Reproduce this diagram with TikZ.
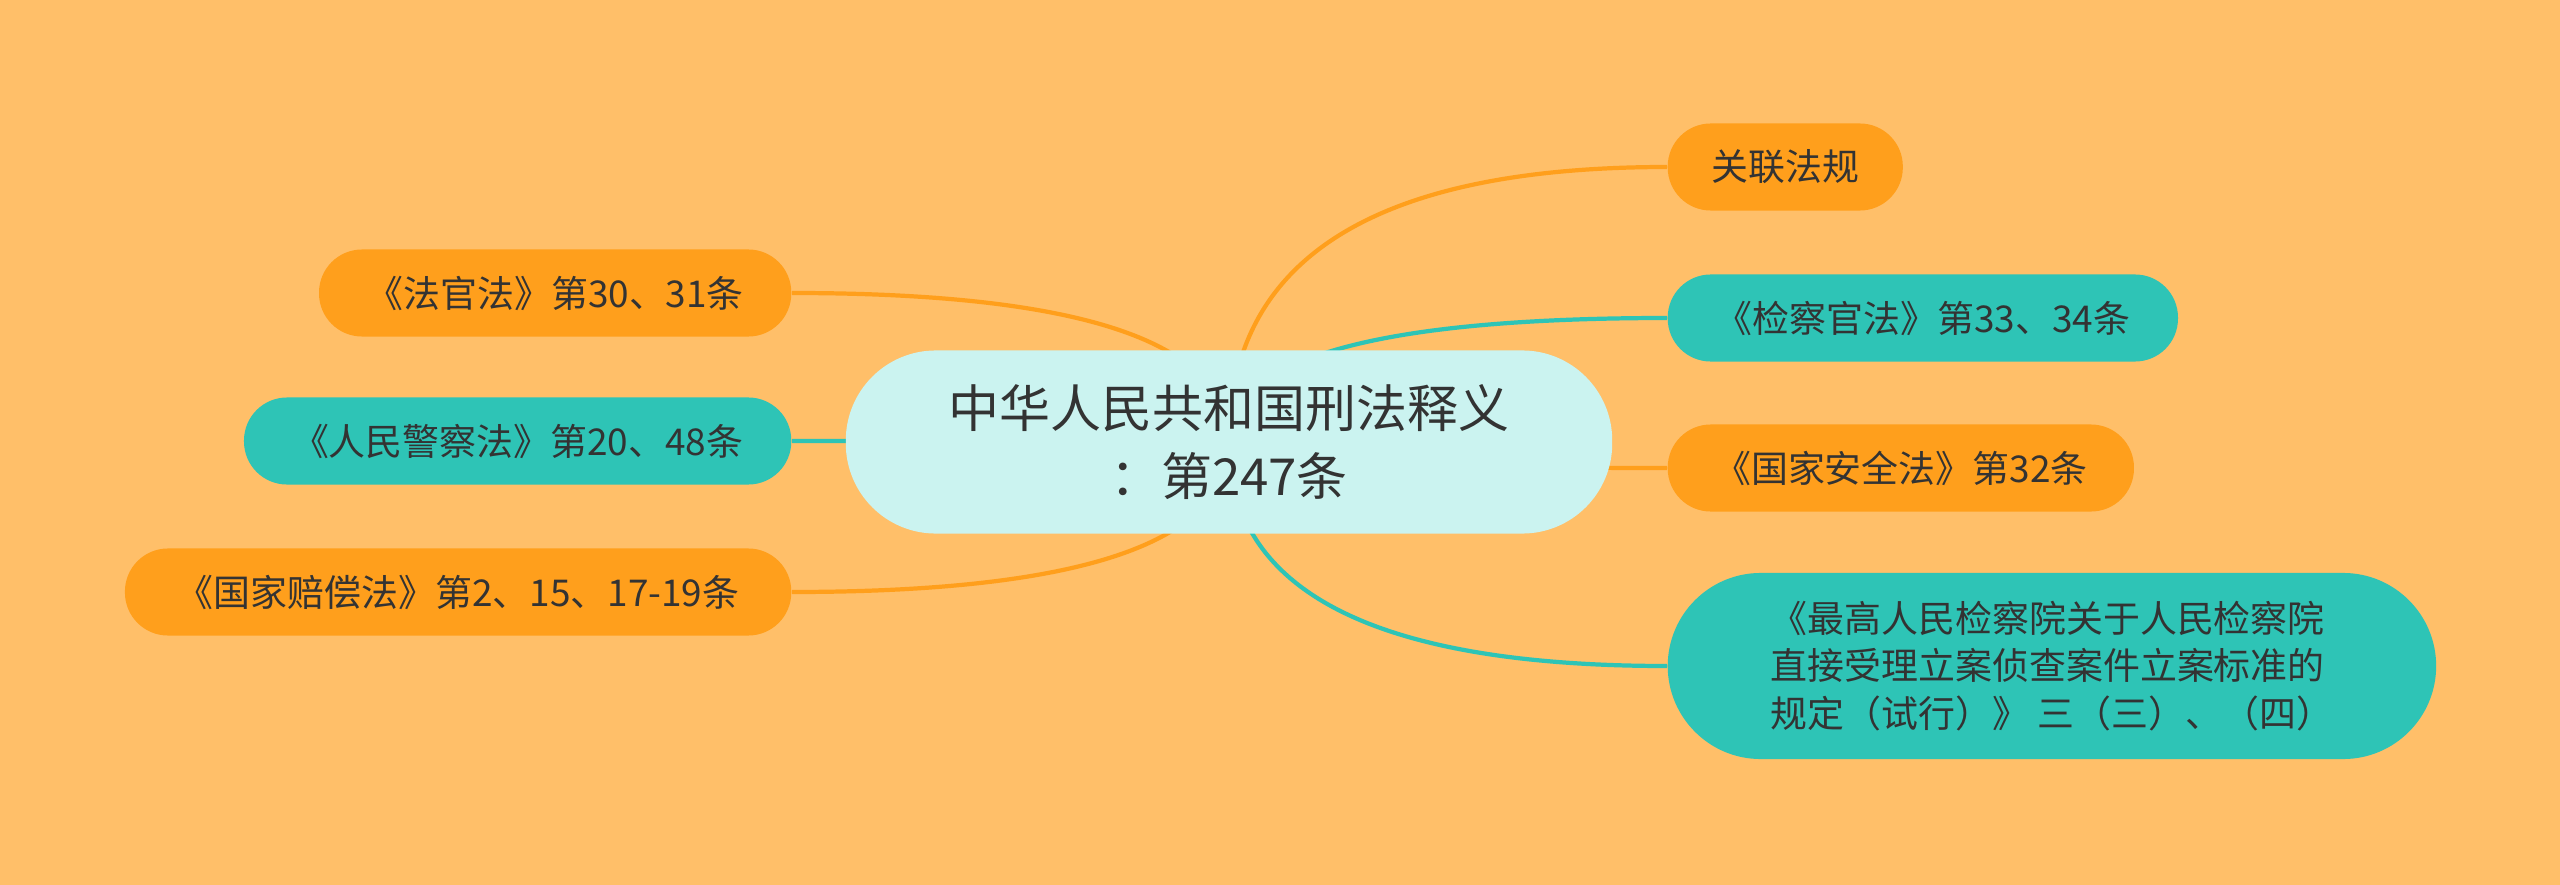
\documentclass[tikz,border=0pt]{standalone}
\usepackage{fontspec}
\setmainfont{Noto Sans CJK SC}
\usetikzlibrary{backgrounds,calc}
\definecolor{bgorange}{HTML}{FFBF69}
\definecolor{deeporange}{HTML}{FF9F1C}
\definecolor{tealnode}{HTML}{2EC4B6}
\definecolor{paleteal}{HTML}{CBF3F0}
\definecolor{inktext}{HTML}{333333}
\tikzset{
  leaf/.style={shape=rectangle, rounded corners=0.43cm, inner sep=0pt, minimum height=0.87cm, text=inktext, font=\fontsize{10.5}{13.6}\selectfont},
  orangeleaf/.style={leaf, fill=deeporange},
  tealleaf/.style={leaf, fill=tealnode},
  branch/.style={line width=1.2pt, to path={.. controls ($(\tikztostart)!0.667!(\tikztostart |- \tikztotarget)$) and ($(\tikztotarget)!0.667!(\tikztostart |- \tikztotarget)$) .. (\tikztotarget)}}
}
\begin{document}
\begin{tikzpicture}[x=0.01cm, y=-0.01cm]
        \useasboundingbox (0,0) rectangle (2560,885);
        \begin{scope}[on background layer]
        \fill[bgorange] (0,0) rectangle (2560,885);
        \end{scope}

        \node[shape=rectangle, rounded corners=0.9cm, fill=paleteal, text=inktext, minimum width=7.66cm, minimum height=1.83cm, align=center, font=\fontsize{14.5}{19.5}\selectfont] (core) at (1229,442) {中华人民共和国刑法释义\\：第247条};

        \node[orangeleaf, anchor=west, minimum width=2.35cm] (guanlian) at (1667,167) {关联法规};
        \node[tealleaf, anchor=west, minimum width=5.10cm] (jianchaguan) at (1667,318) {《检察官法》第33、34条};
        \node[orangeleaf, anchor=west, minimum width=4.66cm] (anquan) at (1667,468) {《国家安全法》第32条};
        \node[tealleaf, anchor=west, minimum width=7.68cm, minimum height=1.86cm, rounded corners=0.93cm, align=left] (zuigao) at (1667,666) {《最高人民检察院关于人民检察院\\直接受理立案侦查案件立案标准的\\规定（试行）》 三（三）、（四）};

        \node[orangeleaf, anchor=east, minimum width=4.72cm] (faguan) at (792,293) {《法官法》第30、31条};
        \node[tealleaf, anchor=east, minimum width=5.47cm] (jingcha) at (792,441) {《人民警察法》第20、48条};
        \node[orangeleaf, anchor=east, minimum width=6.66cm] (peichang) at (792,592) {《国家赔偿法》第2、15、17-19条};

        \begin{scope}[on background layer]
        \path
        (core.center) edge[branch, deeporange] (guanlian.west)
        (core.center) edge[branch, tealnode] (jianchaguan.west)
        (core.center) edge[branch, deeporange] (anquan.west)
        (core.center) edge[branch, tealnode] (zuigao.west)
        (core.center) edge[branch, deeporange] (faguan.east)
        (core.center) edge[branch, tealnode] (jingcha.east)
        (core.center) edge[branch, deeporange] (peichang.east)
        ;
        \end{scope}
\end{tikzpicture}
\end{document}
